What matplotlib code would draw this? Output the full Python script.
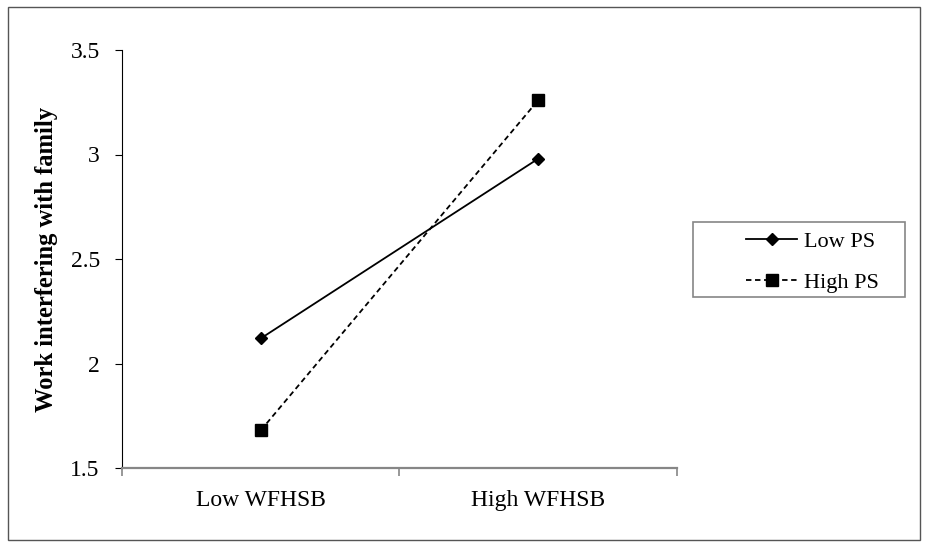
import matplotlib.pyplot as plt
from matplotlib.patches import Rectangle

# simple slopes: two levels of PS across low/high WFHSB
categories = ['Low WFHSB', 'High WFHSB']
low_ps = [2.12, 2.98]
high_ps = [1.68, 3.26]
y_ticks = [1.5, 2, 2.5, 3, 3.5]
y_tick_labels = ['1.5', '2', '2.5', '3', '3.5']

plt.rcParams['font.family'] = ['Liberation Serif', 'DejaVu Serif']
W, H = 928, 548


def px_rect(x0, y0, x1, y1):
    # rectangle given in pixel coords from the top-left corner
    return (x0 / W, 1 - y1 / H, (x1 - x0) / W, (y1 - y0) / H)


fig = plt.figure(figsize=(W / 100, H / 100), dpi=100)
fig.patches.append(Rectangle(px_rect(8, 7, 920, 540)[:2], *px_rect(8, 7, 920, 540)[2:],
                             transform=fig.transFigure, fill=False,
                             edgecolor='#555555', linewidth=1.0))

ax = fig.add_axes(px_rect(122, 50, 677, 468))

x = [0.5, 1.5]
ax.plot(x, low_ps, color='black', linestyle='-', linewidth=1.3,
        marker='D', markersize=6.5, label='Low PS')
ax.plot(x, high_ps, color='black', linestyle=(0, (3, 2)), linewidth=1.3,
        marker='s', markersize=8, label='High PS')

ax.set_xlim(0, 2)
ax.set_ylim(1.5, 3.5)
ax.set_yticks(y_ticks)
ax.set_yticklabels(y_tick_labels, fontsize=17)
ax.set_xticks([0, 1, 2])
ax.set_xticklabels([])
ax.set_xticks(x, minor=True)
ax.set_xticklabels(categories, minor=True, fontsize=17)
ax.tick_params(axis='x', which='minor', length=0, pad=16)
ax.tick_params(axis='x', which='major', length=6, width=1.2, color='#868686')
ax.tick_params(axis='y', length=5, pad=11)

for side in ['top', 'right']:
    ax.spines[side].set_visible(False)
ax.spines['bottom'].set_color('#868686')
ax.spines['bottom'].set_linewidth(1.6)
ax.spines['left'].set_color('black')

ax.set_ylabel('Work interfering with family', fontsize=17.7, fontweight='bold', labelpad=9)

# legend box with its entries placed inside
fig.patches.append(Rectangle(px_rect(693, 222, 905, 297)[:2], *px_rect(693, 222, 905, 297)[2:],
                             transform=fig.transFigure, fill=False,
                             edgecolor='#868686', linewidth=1.2))
fig.legend(loc='upper left', bbox_to_anchor=(746 / W, 1 - 231 / H),
           fontsize=16, frameon=False, handlelength=2.3,
           handletextpad=0.3, borderpad=0, labelspacing=0.95,
           borderaxespad=0)

fig.savefig('out.png', dpi=100)
